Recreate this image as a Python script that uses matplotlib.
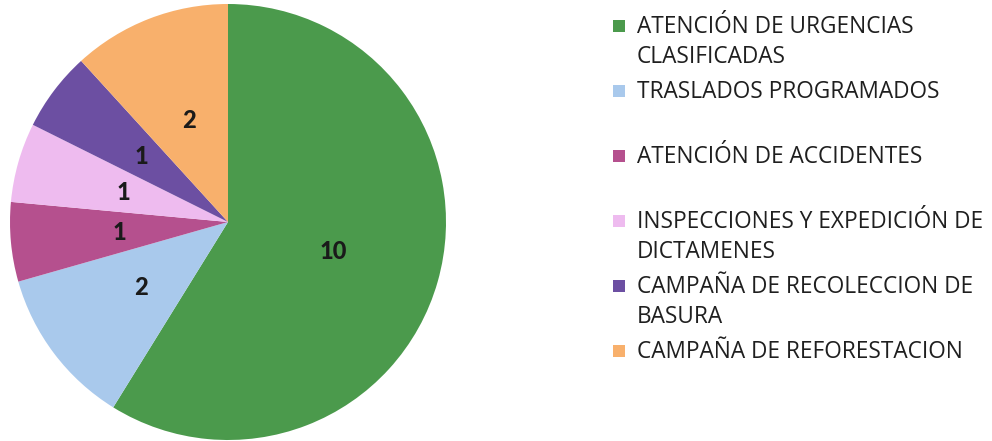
import matplotlib
matplotlib.use("Agg")
import matplotlib.pyplot as plt
from matplotlib.patches import Rectangle

categories = [
    "ATENCIÓN DE URGENCIAS\nCLASIFICADAS",
    "TRASLADOS PROGRAMADOS",
    "ATENCIÓN DE ACCIDENTES",
    "INSPECCIONES Y EXPEDICIÓN DE\nDICTAMENES",
    "CAMPAÑA DE RECOLECCION DE\nBASURA",
    "CAMPAÑA DE REFORESTACION",
]
values = [10, 2, 1, 1, 1, 2]
colors = ["#4b9a4c", "#a9c9ec", "#b5508e", "#eebbef", "#6c4fa2", "#f8b06c"]

W, H = 992, 441
fig = plt.figure(figsize=(W / 100, H / 100), dpi=100)
fig.patch.set_facecolor("white")

cx, cy, r = 228, 222, 218
ax = fig.add_axes([(cx - r) / W, (H - cy - r) / H, 2 * r / W, 2 * r / H])
wedges, texts = ax.pie(
    values, colors=colors, startangle=90, counterclock=False,
    labels=[str(v) for v in values], labeldistance=0.5,
    wedgeprops=dict(linewidth=0),
    textprops=dict(fontsize=17, fontweight="black", family=["Lato", "DejaVu Sans"], color="#1a1a1a"),
)
for t in texts:
    t.set_ha("center")
    t.set_va("center")
ax.set_xlim(-1, 1)
ax.set_ylim(-1, 1)
ax.set_aspect("equal")
ax.axis("off")

# legend (manual, evenly spaced entries)
y0, dy, line = 26, 65, 30
for i, (lab, col) in enumerate(zip(categories, colors)):
    y = y0 + dy * i
    fig.patches.append(Rectangle((613 / W, 1 - (y + 6) / H), 12 / W, 12 / H,
                                 transform=fig.transFigure, facecolor=col, edgecolor="none"))
    for j, part in enumerate(lab.split("\n")):
        fig.text(637 / W, 1 - (y + 1 + j * line) / H, part, fontsize=16.3,
                 family=["Open Sans", "DejaVu Sans"], color="#1f1f1f", va="center", ha="left")

fig.savefig("out.png", dpi=100, facecolor="white")
